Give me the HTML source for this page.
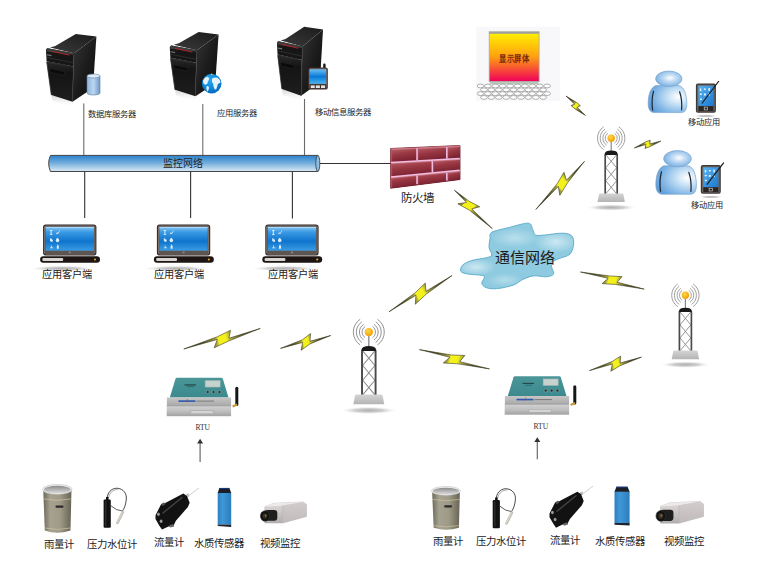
<!DOCTYPE html><html lang="zh-CN"><head><meta charset="utf-8"><style>html,body{margin:0;padding:0;background:#fff;overflow:hidden}svg{display:block}</style></head><body>
<svg width="770" height="573" viewBox="0 0 770 573">
<defs>
<linearGradient id="srvSide" x1="0" y1="0" x2="1" y2="1"><stop offset="0" stop-color="#363636"/><stop offset="0.5" stop-color="#1c1c1c"/><stop offset="1" stop-color="#0c0c0c"/></linearGradient>
<linearGradient id="srvTop" x1="0" y1="1" x2="1" y2="0"><stop offset="0" stop-color="#3a3a3a"/><stop offset="1" stop-color="#1c1c1c"/></linearGradient>
<linearGradient id="srvFront" x1="0" y1="0" x2="0" y2="1"><stop offset="0" stop-color="#2a2a2a"/><stop offset="0.3" stop-color="#141414"/><stop offset="1" stop-color="#1e1e1e"/></linearGradient>
<linearGradient id="srvRefl" x1="0" y1="0" x2="0" y2="1"><stop offset="0" stop-color="#c8c8c8"/><stop offset="1" stop-color="#ffffff" stop-opacity="0"/></linearGradient>
<g id="server">
<polygon points="51.3,95 72.5,101.7 74.5,108 52.5,101" fill="url(#srvRefl)" opacity="0.75"/>
<polygon points="50,47.5 55.3,45.9 75.8,34 96.4,36.6 73.9,53.2" fill="url(#srvTop)"/>
<polygon points="73.9,53.2 96.4,36.6 93,88 72.5,101.7" fill="url(#srvSide)"/>
<polygon points="46.6,61.2 73.2,66.5 72.5,101.7 51.3,95" fill="url(#srvFront)"/>
<path d="M47.6,48.2 Q46,48.5 46,50.5 L46.6,61.2 L73.2,66.5 L73.9,53.2 Z" fill="#161616"/>
<path d="M47.6,48.2 Q46,48.5 46,50.5 L46.2,51.5 L73.9,55 L73.9,53.2 Z" fill="#3c3c3c"/>
<line x1="51.3" y1="51.2" x2="69.2" y2="55.1" stroke="#b02424" stroke-width="1"/>
<line x1="47" y1="57.5" x2="72.8" y2="62.6" stroke="#383838" stroke-width="0.7"/>
<rect x="46.8" y="54.6" width="4.8" height="1.1" fill="#7a7a7a" transform="rotate(11 49 55)"/>
<polygon points="48,61.6 67.9,65 67.9,66.6 48,63.2" fill="#2e2e2e"/>
<polygon points="50,68.5 64.6,71.5 64.6,75.4 50,72.4" fill="#0a0a0a" stroke="#2c2c2c" stroke-width="0.5"/>
<line x1="73.9" y1="53.4" x2="72.5" y2="101.5" stroke="#303030" stroke-width="0.7"/>
<line x1="46.8" y1="62" x2="51.3" y2="94.8" stroke="#2e2e2e" stroke-width="0.8"/>
</g>
<linearGradient id="lpScr" x1="0" y1="0" x2="0" y2="1"><stop offset="0" stop-color="#86c8f4"/><stop offset="0.22" stop-color="#3a9ae4"/><stop offset="0.6" stop-color="#0e74cc"/><stop offset="1" stop-color="#3a9ce4"/></linearGradient>
<linearGradient id="lpBez" x1="0" y1="0" x2="0" y2="1"><stop offset="0" stop-color="#4a403c"/><stop offset="1" stop-color="#2a2220"/></linearGradient>
<radialGradient id="shadowG" cx="0.5" cy="0.5" r="0.5"><stop offset="0" stop-color="#b0b0b0"/><stop offset="0.5" stop-color="#cfcfcf"/><stop offset="1" stop-color="#ffffff" stop-opacity="0"/></radialGradient>
<g id="laptop">
<ellipse cx="62" cy="268.5" rx="34" ry="3" fill="url(#shadowG)"/>
<rect x="43.1" y="224.5" width="53.3" height="31" rx="2.8" fill="#2e2422"/>
<rect x="44.1" y="225.4" width="51.3" height="29" rx="1.8" fill="#8a807c"/>
<rect x="44.8" y="226.1" width="49.9" height="27.8" rx="1.2" fill="#5e5450"/>
<rect x="45.6" y="226.9" width="48.3" height="23.8" fill="url(#lpScr)"/>
<rect x="45.6" y="226.9" width="48.3" height="0.7" fill="#c8e4f8"/>
<rect x="68.8" y="251.6" width="2" height="1.6" fill="#8a8a8a"/>
<rect x="40.1" y="256.3" width="59.9" height="6.4" rx="3.2" fill="#1e1614"/>
<rect x="42.4" y="258.1" width="20.8" height="2.8" rx="1" fill="#d8d4d2"/>
<circle cx="95" cy="259.5" r="1" fill="#f0b020"/>
<g fill="#eef6ff" opacity="0.92">
<path d="M49.8,230 h2.6 v0.8 h-0.8 v3.4 h0.8 v0.9 h-2.6 v-0.9 h0.8 v-3.4 h-0.8 z"/>
<path d="M56,233.5 l1.2,-1.2 l0.8,0.8 l1.5,-2.6 l0.5,0.3 l-1.8,3.2 l-0.9,-0.6 l-0.9,0.8 z"/>
<path d="M50,238.2 q1.5,0 2,1.3 l1,0.3 l-0.3,1.6 l-0.9,0.5 l-1.8,-0.8 z"/>
<path d="M57.5,237.8 q1.8,1.3 1.8,2.6 q0,1.8 -1.8,1.8 q-1.8,0 -1.8,-1.8 q0,-1.3 1.8,-2.6 z"/>
<path d="M50,248.2 h3.2 v-0.7 h-1.2 l-0.6,-2.3 h-0.6 l0.4,2.3 h-1.2 z"/>
<path d="M56.8,248.8 h2 v-2.8 l-0.6,-0.7 v-0.8 h-0.8 v0.8 l-0.6,0.7 z"/>
</g>
</g>
<radialGradient id="ballG" cx="0.4" cy="0.35" r="0.7"><stop offset="0" stop-color="#ffd84a"/><stop offset="1" stop-color="#f09a00"/></radialGradient>
<linearGradient id="baseG" x1="0" y1="0" x2="0" y2="1"><stop offset="0" stop-color="#d4d4d4"/><stop offset="1" stop-color="#b4b4b4"/></linearGradient>
<g id="tower">
<ellipse cx="0" cy="69.3" rx="26" ry="3.4" fill="url(#shadowG)"/>
<path d="M-3.30,-4.89 A5.9,5.9 0 0 0 -3.30,4.89" fill="none" stroke="#8e8e8e" stroke-width="0.85"/>
<path d="M3.30,-4.89 A5.9,5.9 0 0 1 3.30,4.89" fill="none" stroke="#8e8e8e" stroke-width="0.85"/>
<path d="M-4.64,-6.88 A8.3,8.3 0 0 0 -4.64,6.88" fill="none" stroke="#8e8e8e" stroke-width="0.85"/>
<path d="M4.64,-6.88 A8.3,8.3 0 0 1 4.64,6.88" fill="none" stroke="#8e8e8e" stroke-width="0.85"/>
<path d="M-6.15,-9.12 A11.0,11.0 0 0 0 -6.15,9.12" fill="none" stroke="#8e8e8e" stroke-width="0.85"/>
<path d="M6.15,-9.12 A11.0,11.0 0 0 1 6.15,9.12" fill="none" stroke="#8e8e8e" stroke-width="0.85"/>
<path d="M-7.66,-11.36 A13.7,13.7 0 0 0 -7.66,11.36" fill="none" stroke="#8e8e8e" stroke-width="0.85"/>
<path d="M7.66,-11.36 A13.7,13.7 0 0 1 7.66,11.36" fill="none" stroke="#8e8e8e" stroke-width="0.85"/>
<line x1="0" y1="3" x2="0" y2="13" stroke="#8a8a8a" stroke-width="1.2"/>
<circle cx="0" cy="0" r="3.7" fill="url(#ballG)"/>
<g stroke="#8a8a8a" stroke-width="0.9">
<line x1="-5.4" y1="16.60" x2="5.4" y2="29.60"/><line x1="5.4" y1="16.60" x2="-5.4" y2="29.60"/>
<line x1="-5.4" y1="29.60" x2="5.4" y2="42.60"/><line x1="5.4" y1="29.60" x2="-5.4" y2="42.60"/>
<line x1="-5.4" y1="42.60" x2="5.4" y2="55.60"/><line x1="5.4" y1="42.60" x2="-5.4" y2="55.60"/>
</g>
<line x1="-6" y1="16" x2="-6" y2="56" stroke="#4a4a4a" stroke-width="1.7"/>
<line x1="6" y1="16" x2="6" y2="56" stroke="#4a4a4a" stroke-width="1.7"/>
<path d="M-6.4,16.8 L-6.4,15.5 Q-6,12.4 0,12.4 Q6,12.4 6.4,15.5 L6.4,16.8 Z" fill="#1a1a1a"/>
<path d="M-12.2,56 Q-12.2,55.3 -10.5,55.3 L10.5,55.3 Q12.2,55.3 12.2,56 L13.7,63.9 L-13.7,63.9 Z" fill="url(#baseG)"/>
</g>
<linearGradient id="pipeG" x1="0" y1="0" x2="0" y2="1"><stop offset="0" stop-color="#2a82d0"/><stop offset="0.5" stop-color="#78b0dc"/><stop offset="1" stop-color="#dceaf4"/></linearGradient>
<linearGradient id="scrG" x1="0" y1="0" x2="0" y2="1"><stop offset="0" stop-color="#fff500"/><stop offset="0.5" stop-color="#ffa010"/><stop offset="1" stop-color="#f0005a"/></linearGradient>
<linearGradient id="cloudG" x1="0" y1="0" x2="1" y2="1"><stop offset="0" stop-color="#8ccbe0"/><stop offset="0.5" stop-color="#aad8e8"/><stop offset="1" stop-color="#7cc0da"/></linearGradient>
<linearGradient id="brick" x1="0" y1="0" x2="0.3" y2="1"><stop offset="0" stop-color="#c06a72"/><stop offset="0.5" stop-color="#9a3844"/><stop offset="1" stop-color="#7a2030"/></linearGradient>
<linearGradient id="teal" x1="0" y1="0" x2="0" y2="1"><stop offset="0" stop-color="#4a9699"/><stop offset="1" stop-color="#3c8a8e"/></linearGradient>
<linearGradient id="band" x1="0" y1="0" x2="0" y2="1"><stop offset="0" stop-color="#c6c6c6"/><stop offset="1" stop-color="#a9a9a9"/></linearGradient>
<linearGradient id="silver" x1="0" y1="0" x2="0" y2="1"><stop offset="0" stop-color="#d2d2d2"/><stop offset="0.5" stop-color="#c0c0c0"/><stop offset="1" stop-color="#a2a2a2"/></linearGradient>
<linearGradient id="rainG" x1="0" y1="0" x2="1" y2="0"><stop offset="0" stop-color="#6e6a5c"/><stop offset="0.25" stop-color="#a6a290"/><stop offset="0.6" stop-color="#9e9a86"/><stop offset="1" stop-color="#686456"/></linearGradient>
<linearGradient id="wqG" x1="0" y1="0" x2="1" y2="0"><stop offset="0" stop-color="#2e80c0"/><stop offset="0.35" stop-color="#3f98d8"/><stop offset="1" stop-color="#2c7cbc"/></linearGradient>
<linearGradient id="rimG" x1="0" y1="0" x2="0" y2="1"><stop offset="0" stop-color="#8a8a8a"/><stop offset="1" stop-color="#dedede"/></linearGradient>
<linearGradient id="camG" x1="0" y1="0" x2="0" y2="1"><stop offset="0" stop-color="#e2dede"/><stop offset="1" stop-color="#b4aeae"/></linearGradient>
</defs>
<use href="#server"/>
<use href="#server" transform="translate(169.8,45.9) scale(0.968,0.947) translate(-46,-48.6)"/>
<use href="#server" transform="translate(277,41.7) scale(0.913,1.02) translate(-46,-48.6)"/>
<g><linearGradient id="dbg" x1="0" y1="0" x2="1" y2="0"><stop offset="0" stop-color="#8fb4dc"/><stop offset="0.5" stop-color="#bcd6ef"/><stop offset="1" stop-color="#6f98c8"/></linearGradient>
<path d="M87.0,76.0 L87.0,93.0 A6.5,2 0 0 0 100.0,93.0 L100.0,76.0 Z" fill="url(#dbg)" stroke="#5c7fa6" stroke-width="0.6"/>
<ellipse cx="93.5" cy="76.0" rx="6.5" ry="2" fill="#dfeaf6" stroke="#5c7fa6" stroke-width="0.6"/></g>
<radialGradient id="glb" cx="0.4" cy="0.3" r="0.8"><stop offset="0" stop-color="#2aa8f0"/><stop offset="0.6" stop-color="#0a84d8"/><stop offset="1" stop-color="#0660b4"/></radialGradient>
<g transform="translate(211.7,83.6) scale(0.990)">
<circle cx="0" cy="0" r="9.9" fill="url(#glb)"/>
<g fill="#f2f7fc" opacity="0.95">
<path d="M-8.8,-3 Q-7.5,-6 -4.5,-6.8 Q-2,-6 -3,-3.5 Q-4.5,-2.5 -4,-0.5 Q-5,1.5 -6.8,1.2 Q-9,0 -8.8,-3 Z"/>
<path d="M-5.2,2.6 Q-3,2.2 -2.6,4.2 Q-3,7 -4.6,8.3 Q-5.8,5.5 -5.2,2.6 Z"/>
<path d="M0.3,-5 Q3,-6.8 6,-5.8 Q8.6,-4 9,-1 Q7.6,0 6.2,0.4 Q5.6,3 4.6,5.6 Q3,6.8 2.5,4.6 Q1.4,2 1.5,0 Q-0.2,-1 0.3,-2.8 Z"/>
</g>
<circle cx="0" cy="-9.4" r="0.9" fill="#f0a830"/>
</g>
<rect x="323.2" y="63.6" width="2.4" height="5" rx="1.1" fill="#151515"/>
<rect x="308.1" y="67.4" width="19.7" height="22.2" rx="2.2" fill="#3a2c28"/>
<rect x="308.9" y="68.2" width="18.1" height="20.6" rx="1.6" fill="#6e625c"/>
<linearGradient id="pdag" x1="0" y1="0" x2="0" y2="1"><stop offset="0" stop-color="#6cc0f4"/><stop offset="0.5" stop-color="#0a78d6"/><stop offset="1" stop-color="#48b4f2"/></linearGradient>
<rect x="309.7" y="69.3" width="16.4" height="14.5" fill="url(#pdag)"/>
<rect x="309.5" y="84.3" width="16.8" height="4.4" fill="#3a2c28"/>
<rect x="310.7" y="85.4" width="4.1" height="2.6" fill="#e8e4e2"/>
<rect x="315.8" y="85.4" width="4.1" height="2.6" fill="#e8e4e2"/>
<rect x="321.0" y="85.4" width="4.1" height="2.6" fill="#e8e4e2"/>
<g stroke="#6a6a6a" stroke-width="1.1"><line x1="83.8" y1="103.5" x2="83.8" y2="155.5"/><line x1="202.8" y1="104" x2="202.8" y2="155.5"/><line x1="304.5" y1="99" x2="304.5" y2="155.5"/></g>
<text x="88.2" y="114.0" font-size="8.3" fill="#222" font-weight="normal" text-anchor="start" dominant-baseline="central" font-family="'Liberation Serif', serif" >数据库服务器</text>
<text x="216.7" y="113.2" font-size="8.3" fill="#222" font-weight="normal" text-anchor="start" dominant-baseline="central" font-family="'Liberation Serif', serif" >应用服务器</text>
<text x="314.9" y="112.2" font-size="8.4" fill="#222" font-weight="normal" text-anchor="start" dominant-baseline="central" font-family="'Liberation Serif', serif" >移动信息服务器</text>
<path d="M50.5,155.4 L318,155.4 L318,171.5 L50.5,171.5 Q46.8,163.45 50.5,155.4 Z" fill="url(#pipeG)" stroke="#444" stroke-width="1"/>
<ellipse cx="317.8" cy="163.45" rx="2" ry="8" fill="#8cc0e8" stroke="#444" stroke-width="0.9"/>
<text x="163.0" y="163.0" font-size="10.0" fill="#222" font-weight="normal" text-anchor="start" dominant-baseline="central" font-family="'Liberation Serif', serif" >监控网络</text>
<line x1="319.8" y1="163.5" x2="391" y2="163.5" stroke="#333" stroke-width="1.1"/>
<g stroke="#333" stroke-width="1.1"><line x1="84.7" y1="171.5" x2="84.7" y2="218"/><line x1="190.6" y1="171.5" x2="190.6" y2="218"/><line x1="292.4" y1="171.5" x2="292.4" y2="218.5"/></g>
<use href="#laptop"/>
<use href="#laptop" transform="translate(113.8,0)"/>
<use href="#laptop" transform="translate(222.2,0)"/>
<text x="42.1" y="274.6" font-size="10.2" fill="#222" font-weight="normal" text-anchor="start" dominant-baseline="central" font-family="'Liberation Serif', serif" >应用客户端</text>
<text x="154.3" y="274.7" font-size="10.2" fill="#222" font-weight="normal" text-anchor="start" dominant-baseline="central" font-family="'Liberation Serif', serif" >应用客户端</text>
<text x="267.8" y="274.7" font-size="10.2" fill="#222" font-weight="normal" text-anchor="start" dominant-baseline="central" font-family="'Liberation Serif', serif" >应用客户端</text>
<g>
<polygon points="390.7,148.5 460,145.5 460,179.5 390.7,188.2" fill="#7a2232" stroke="#5a1020" stroke-width="0.8"/>
<polygon points="390.7,148.5 417.0,147.4 417.0,161.0 390.7,162.5" fill="url(#brick)"/>
<polygon points="390.7,148.5 417.0,147.4 417.0,149.0 392.2,150.1" fill="#cf8088" opacity="0.8"/>
<polygon points="390.7,148.5 392.2,150.1 392.2,162.0 390.7,162.5" fill="#b85a66" opacity="0.7"/>
<polygon points="417.0,147.4 446.8,146.1 446.8,159.3 417.0,161.0" fill="url(#brick)"/>
<polygon points="417.0,147.4 446.8,146.1 446.8,147.7 418.5,149.0" fill="#cf8088" opacity="0.8"/>
<polygon points="417.0,147.4 418.5,149.0 418.5,160.5 417.0,161.0" fill="#b85a66" opacity="0.7"/>
<polygon points="446.8,146.1 460.0,145.5 460.0,158.5 446.8,159.3" fill="url(#brick)"/>
<polygon points="446.8,146.1 460.0,145.5 460.0,147.1 448.3,147.7" fill="#cf8088" opacity="0.8"/>
<polygon points="446.8,146.1 448.3,147.7 448.3,158.8 446.8,159.3" fill="#b85a66" opacity="0.7"/>
<polygon points="390.7,162.5 432.3,160.1 432.3,172.9 390.7,176.9" fill="url(#brick)"/>
<polygon points="390.7,162.5 432.3,160.1 432.3,161.7 392.2,164.1" fill="#cf8088" opacity="0.8"/>
<polygon points="390.7,162.5 392.2,164.1 392.2,176.4 390.7,176.9" fill="#b85a66" opacity="0.7"/>
<polygon points="432.3,160.1 460.0,158.5 460.0,170.3 432.3,172.9" fill="url(#brick)"/>
<polygon points="432.3,160.1 460.0,158.5 460.0,160.1 433.8,161.7" fill="#cf8088" opacity="0.8"/>
<polygon points="432.3,160.1 433.8,161.7 433.8,172.4 432.3,172.9" fill="#b85a66" opacity="0.7"/>
<polygon points="390.7,176.9 417.0,174.4 417.0,184.9 390.7,188.2" fill="url(#brick)"/>
<polygon points="390.7,176.9 417.0,174.4 417.0,176.0 392.2,178.5" fill="#cf8088" opacity="0.8"/>
<polygon points="390.7,176.9 392.2,178.5 392.2,187.7 390.7,188.2" fill="#b85a66" opacity="0.7"/>
<polygon points="417.0,174.4 446.8,171.6 446.8,181.2 417.0,184.9" fill="url(#brick)"/>
<polygon points="417.0,174.4 446.8,171.6 446.8,173.2 418.5,176.0" fill="#cf8088" opacity="0.8"/>
<polygon points="417.0,174.4 418.5,176.0 418.5,184.4 417.0,184.9" fill="#b85a66" opacity="0.7"/>
<polygon points="446.8,171.6 460.0,170.3 460.0,179.5 446.8,181.2" fill="url(#brick)"/>
<polygon points="446.8,171.6 460.0,170.3 460.0,171.9 448.3,173.2" fill="#cf8088" opacity="0.8"/>
<polygon points="446.8,171.6 448.3,173.2 448.3,180.7 446.8,181.2" fill="#b85a66" opacity="0.7"/>
<g stroke="#f2bde4" stroke-width="1.5" fill="none">
<line x1="391" y1="162.5" x2="459.6" y2="158.5"/><line x1="391" y1="176.9" x2="459.6" y2="170.3"/>
<line x1="417.0" y1="148.2" x2="417.0" y2="160.2"/>
<line x1="446.8" y1="146.9" x2="446.8" y2="158.5"/>
<line x1="432.3" y1="160.9" x2="432.3" y2="172.1"/>
<line x1="417.0" y1="175.2" x2="417.0" y2="184.1"/>
<line x1="446.8" y1="172.4" x2="446.8" y2="180.4"/>
</g></g>
<text x="401.0" y="197.8" font-size="11.5" fill="#222" font-weight="normal" text-anchor="start" dominant-baseline="central" font-family="'Liberation Serif', serif" >防火墙</text>
<rect x="476.3" y="26.8" width="83.9" height="74.2" fill="#f8f8fa"/>
<rect x="489.2" y="31.8" width="49.9" height="49.6" fill="url(#scrG)" stroke="#a8a8a8" stroke-width="0.8"/>
<rect x="489.2" y="31.8" width="49.9" height="2" fill="#a0a0a0"/>
<rect x="489.8" y="82" width="48.6" height="2.2" fill="#b8c8b8"/>
<text x="514.3" y="58.5" font-size="8.6" fill="#7a2a10" font-weight="bold" text-anchor="middle" dominant-baseline="central" font-family="'Liberation Serif', serif" textLength="30.7" lengthAdjust="spacingAndGlyphs">显示屏体</text>
<g fill="#fff" stroke="#8c8c8c" stroke-width="0.7">
<ellipse cx="480.5" cy="86.0" rx="3.4" ry="1.9"/>
<ellipse cx="487.9" cy="86.0" rx="3.4" ry="1.9"/>
<ellipse cx="495.3" cy="86.0" rx="3.4" ry="1.9"/>
<ellipse cx="502.7" cy="86.0" rx="3.4" ry="1.9"/>
<ellipse cx="510.1" cy="86.0" rx="3.4" ry="1.9"/>
<ellipse cx="517.5" cy="86.0" rx="3.4" ry="1.9"/>
<ellipse cx="524.9" cy="86.0" rx="3.4" ry="1.9"/>
<ellipse cx="532.3" cy="86.0" rx="3.4" ry="1.9"/>
<ellipse cx="539.7" cy="86.0" rx="3.4" ry="1.9"/>
<ellipse cx="547.1" cy="86.0" rx="3.4" ry="1.9"/>
<ellipse cx="484.0" cy="89.8" rx="3.4" ry="1.9"/>
<ellipse cx="491.4" cy="89.8" rx="3.4" ry="1.9"/>
<ellipse cx="498.8" cy="89.8" rx="3.4" ry="1.9"/>
<ellipse cx="506.2" cy="89.8" rx="3.4" ry="1.9"/>
<ellipse cx="513.6" cy="89.8" rx="3.4" ry="1.9"/>
<ellipse cx="521.0" cy="89.8" rx="3.4" ry="1.9"/>
<ellipse cx="528.4" cy="89.8" rx="3.4" ry="1.9"/>
<ellipse cx="535.8" cy="89.8" rx="3.4" ry="1.9"/>
<ellipse cx="543.2" cy="89.8" rx="3.4" ry="1.9"/>
<ellipse cx="480.5" cy="93.6" rx="3.4" ry="1.9"/>
<ellipse cx="487.9" cy="93.6" rx="3.4" ry="1.9"/>
<ellipse cx="495.3" cy="93.6" rx="3.4" ry="1.9"/>
<ellipse cx="502.7" cy="93.6" rx="3.4" ry="1.9"/>
<ellipse cx="510.1" cy="93.6" rx="3.4" ry="1.9"/>
<ellipse cx="517.5" cy="93.6" rx="3.4" ry="1.9"/>
<ellipse cx="524.9" cy="93.6" rx="3.4" ry="1.9"/>
<ellipse cx="532.3" cy="93.6" rx="3.4" ry="1.9"/>
<ellipse cx="539.7" cy="93.6" rx="3.4" ry="1.9"/>
<ellipse cx="547.1" cy="93.6" rx="3.4" ry="1.9"/>
<ellipse cx="484.0" cy="97.4" rx="3.4" ry="1.9"/>
<ellipse cx="491.4" cy="97.4" rx="3.4" ry="1.9"/>
<ellipse cx="498.8" cy="97.4" rx="3.4" ry="1.9"/>
<ellipse cx="506.2" cy="97.4" rx="3.4" ry="1.9"/>
<ellipse cx="513.6" cy="97.4" rx="3.4" ry="1.9"/>
<ellipse cx="521.0" cy="97.4" rx="3.4" ry="1.9"/>
<ellipse cx="528.4" cy="97.4" rx="3.4" ry="1.9"/>
<ellipse cx="535.8" cy="97.4" rx="3.4" ry="1.9"/>
<ellipse cx="543.2" cy="97.4" rx="3.4" ry="1.9"/>
</g>
<g transform="translate(668.8,78.8) scale(1.000)">
<radialGradient id="p1b" cx="0.78" cy="0.42" r="0.85"><stop offset="0" stop-color="#ffffff"/><stop offset="0.28" stop-color="#cfe5f7"/><stop offset="0.7" stop-color="#84b8e6"/><stop offset="1" stop-color="#5a9ad8"/></radialGradient>
<radialGradient id="p1h" cx="0.55" cy="0.45" r="0.65"><stop offset="0" stop-color="#ffffff"/><stop offset="0.35" stop-color="#c2dcf4"/><stop offset="1" stop-color="#6aa6de"/></radialGradient>
<path d="M-13,6.8 C-18,8.5 -20.4,15.5 -20.6,23.5 C-20.8,30 -19,33.6 -14.5,33.8 L12.5,33.8 C16.8,33.6 18.2,30 18,23.5 C17.6,15.5 15.5,8.5 10.5,6.8 Z" fill="url(#p1b)" stroke="#7aa6d0" stroke-width="0.7"/>
<path d="M-15.3,12.5 Q-17.6,21 -16.2,31" fill="none" stroke="#1e2630" stroke-width="1.2" stroke-linecap="round"/>
<path d="M10.8,13 Q13.6,21 12.8,31" fill="none" stroke="#1e2630" stroke-width="1.2" stroke-linecap="round"/>
<ellipse cx="0" cy="0" rx="13.2" ry="7.75" fill="url(#p1h)" stroke="#7aa6d0" stroke-width="0.7"/>
</g>
<g transform="translate(695.9,83.5) scale(1.000,1.000)">
<ellipse cx="10" cy="32.5" rx="13" ry="1.6" fill="url(#shadowG)"/>
<rect x="0" y="0" width="20" height="29.3" rx="2" fill="#3e3a38"/>
<rect x="1.2" y="1.2" width="17.6" height="26.9" rx="1.4" fill="#6a6664"/>
<linearGradient id="pd1" x1="0" y1="0" x2="1" y2="1"><stop offset="0" stop-color="#5ab4f0"/><stop offset="1" stop-color="#1a78d0"/></linearGradient>
<rect x="2.5" y="2.3" width="15" height="20.3" fill="url(#pd1)"/>
<rect x="2.5" y="22.6" width="15" height="5" fill="#2a2624"/>
<rect x="8.3" y="23.6" width="3.4" height="2.8" fill="none" stroke="#ddd" stroke-width="0.6"/>
<g fill="#e8f4ff"><rect x="4" y="5" width="1.4" height="2.5"/><rect x="8" y="5" width="2" height="1.4"/><rect x="12.5" y="4.5" width="1.5" height="3"/><rect x="4" y="10" width="2" height="1.4"/><rect x="8" y="10" width="2" height="2"/><rect x="12" y="10" width="2" height="2"/><rect x="4" y="15" width="2" height="1.4"/></g>
<line x1="6" y1="20" x2="23" y2="-2.5" stroke="#1a1a1a" stroke-width="1.2"/>
</g>
<text x="688.4" y="122.3" font-size="8.2" fill="#222" font-weight="normal" text-anchor="start" dominant-baseline="central" font-family="'Liberation Serif', serif" >移动应用</text>
<g transform="translate(677.5,158.7) scale(1.050)">
<radialGradient id="p2b" cx="0.78" cy="0.42" r="0.85"><stop offset="0" stop-color="#ffffff"/><stop offset="0.28" stop-color="#cfe5f7"/><stop offset="0.7" stop-color="#84b8e6"/><stop offset="1" stop-color="#5a9ad8"/></radialGradient>
<radialGradient id="p2h" cx="0.55" cy="0.45" r="0.65"><stop offset="0" stop-color="#ffffff"/><stop offset="0.35" stop-color="#c2dcf4"/><stop offset="1" stop-color="#6aa6de"/></radialGradient>
<path d="M-13,6.8 C-18,8.5 -20.4,15.5 -20.6,23.5 C-20.8,30 -19,33.6 -14.5,33.8 L12.5,33.8 C16.8,33.6 18.2,30 18,23.5 C17.6,15.5 15.5,8.5 10.5,6.8 Z" fill="url(#p2b)" stroke="#7aa6d0" stroke-width="0.7"/>
<path d="M-15.3,12.5 Q-17.6,21 -16.2,31" fill="none" stroke="#1e2630" stroke-width="1.2" stroke-linecap="round"/>
<path d="M10.8,13 Q13.6,21 12.8,31" fill="none" stroke="#1e2630" stroke-width="1.2" stroke-linecap="round"/>
<ellipse cx="0" cy="0" rx="13.2" ry="7.75" fill="url(#p2h)" stroke="#7aa6d0" stroke-width="0.7"/>
</g>
<g transform="translate(700.8,165.1) scale(1.000,0.980)">
<ellipse cx="10" cy="32.5" rx="13" ry="1.6" fill="url(#shadowG)"/>
<rect x="0" y="0" width="20" height="29.3" rx="2" fill="#3e3a38"/>
<rect x="1.2" y="1.2" width="17.6" height="26.9" rx="1.4" fill="#6a6664"/>
<linearGradient id="pd2" x1="0" y1="0" x2="1" y2="1"><stop offset="0" stop-color="#5ab4f0"/><stop offset="1" stop-color="#1a78d0"/></linearGradient>
<rect x="2.5" y="2.3" width="15" height="20.3" fill="url(#pd2)"/>
<rect x="2.5" y="22.6" width="15" height="5" fill="#2a2624"/>
<rect x="8.3" y="23.6" width="3.4" height="2.8" fill="none" stroke="#ddd" stroke-width="0.6"/>
<g fill="#e8f4ff"><rect x="4" y="5" width="1.4" height="2.5"/><rect x="8" y="5" width="2" height="1.4"/><rect x="12.5" y="4.5" width="1.5" height="3"/><rect x="4" y="10" width="2" height="1.4"/><rect x="8" y="10" width="2" height="2"/><rect x="12" y="10" width="2" height="2"/><rect x="4" y="15" width="2" height="1.4"/></g>
<line x1="6" y1="20" x2="23" y2="-2.5" stroke="#1a1a1a" stroke-width="1.2"/>
</g>
<text x="691.4" y="205.4" font-size="8.2" fill="#222" font-weight="normal" text-anchor="start" dominant-baseline="central" font-family="'Liberation Serif', serif" >移动应用</text>
<use href="#tower" transform="translate(611.2,138.2)"/>
<use href="#tower" transform="translate(685.4,295.3)"/>
<use href="#tower" transform="translate(368.8,332.1) scale(1.13)"/>
<clipPath id="cloudClip"><path d="M491.8,232.3 C494.8,230.5 502.1,229.2 508.2,227.7 C514.3,226.2 524.1,222.9 528.2,223.2 C532.3,223.5 531.5,227.5 532.7,229.5 C533.9,231.5 533.5,234.1 535.5,235.0 C537.5,235.9 540.0,235.3 544.5,235.0 C549.0,234.7 558.2,233.0 562.7,233.2 C567.2,233.3 570.0,234.1 571.8,235.9 C573.6,237.7 573.9,241.1 573.6,244.1 C573.3,247.1 572.4,251.7 570.0,254.1 C567.6,256.5 562.1,257.2 559.1,258.6 C556.1,260.0 553.0,260.8 551.8,262.3 C550.6,263.8 551.5,265.7 551.8,267.7 C552.1,269.7 554.5,272.6 553.6,274.1 C552.7,275.6 549.7,276.5 546.4,276.8 C543.1,277.1 537.5,275.4 533.6,275.9 C529.7,276.3 526.0,278.0 522.7,279.5 C519.4,281.0 517.8,283.5 513.6,285.0 C509.4,286.5 501.8,288.2 497.3,288.6 C492.8,289.1 489.0,288.6 486.4,287.7 C483.8,286.8 482.1,285.0 481.8,283.2 C481.5,281.4 484.9,278.2 484.5,276.8 C484.1,275.4 481.8,275.4 479.1,275.0 C476.4,274.6 471.2,274.7 468.2,274.1 C465.2,273.5 461.8,272.9 460.9,271.4 C460.0,269.9 460.9,266.8 462.7,265.0 C464.5,263.2 467.9,261.7 471.8,260.5 C475.8,259.3 483.1,258.6 486.4,257.7 C489.7,256.8 491.4,256.7 491.8,255.0 C492.2,253.3 489.4,250.4 489.1,247.7 C488.8,245.0 489.6,241.2 490.0,238.6 C490.4,236.0 488.8,234.1 491.8,232.3Z"/></clipPath>
<radialGradient id="cl1" cx="0.5" cy="0.5" r="0.5"><stop offset="0" stop-color="#d4ecf4" stop-opacity="0.9"/><stop offset="1" stop-color="#d4ecf4" stop-opacity="0"/></radialGradient>
<path d="M491.8,232.3 C494.8,230.5 502.1,229.2 508.2,227.7 C514.3,226.2 524.1,222.9 528.2,223.2 C532.3,223.5 531.5,227.5 532.7,229.5 C533.9,231.5 533.5,234.1 535.5,235.0 C537.5,235.9 540.0,235.3 544.5,235.0 C549.0,234.7 558.2,233.0 562.7,233.2 C567.2,233.3 570.0,234.1 571.8,235.9 C573.6,237.7 573.9,241.1 573.6,244.1 C573.3,247.1 572.4,251.7 570.0,254.1 C567.6,256.5 562.1,257.2 559.1,258.6 C556.1,260.0 553.0,260.8 551.8,262.3 C550.6,263.8 551.5,265.7 551.8,267.7 C552.1,269.7 554.5,272.6 553.6,274.1 C552.7,275.6 549.7,276.5 546.4,276.8 C543.1,277.1 537.5,275.4 533.6,275.9 C529.7,276.3 526.0,278.0 522.7,279.5 C519.4,281.0 517.8,283.5 513.6,285.0 C509.4,286.5 501.8,288.2 497.3,288.6 C492.8,289.1 489.0,288.6 486.4,287.7 C483.8,286.8 482.1,285.0 481.8,283.2 C481.5,281.4 484.9,278.2 484.5,276.8 C484.1,275.4 481.8,275.4 479.1,275.0 C476.4,274.6 471.2,274.7 468.2,274.1 C465.2,273.5 461.8,272.9 460.9,271.4 C460.0,269.9 460.9,266.8 462.7,265.0 C464.5,263.2 467.9,261.7 471.8,260.5 C475.8,259.3 483.1,258.6 486.4,257.7 C489.7,256.8 491.4,256.7 491.8,255.0 C492.2,253.3 489.4,250.4 489.1,247.7 C488.8,245.0 489.6,241.2 490.0,238.6 C490.4,236.0 488.8,234.1 491.8,232.3Z" fill="#8ecae0"/>
<g clip-path="url(#cloudClip)"><ellipse cx="476" cy="267" rx="20" ry="9" fill="url(#cl1)"/><ellipse cx="556" cy="242" rx="22" ry="11" fill="url(#cl1)"/><ellipse cx="515" cy="238" rx="24" ry="10" fill="url(#cl1)" opacity="0.7"/><ellipse cx="505" cy="280" rx="18" ry="7" fill="url(#cl1)" opacity="0.6"/></g>
<path d="M491.8,232.3 C494.8,230.5 502.1,229.2 508.2,227.7 C514.3,226.2 524.1,222.9 528.2,223.2 C532.3,223.5 531.5,227.5 532.7,229.5 C533.9,231.5 533.5,234.1 535.5,235.0 C537.5,235.9 540.0,235.3 544.5,235.0 C549.0,234.7 558.2,233.0 562.7,233.2 C567.2,233.3 570.0,234.1 571.8,235.9 C573.6,237.7 573.9,241.1 573.6,244.1 C573.3,247.1 572.4,251.7 570.0,254.1 C567.6,256.5 562.1,257.2 559.1,258.6 C556.1,260.0 553.0,260.8 551.8,262.3 C550.6,263.8 551.5,265.7 551.8,267.7 C552.1,269.7 554.5,272.6 553.6,274.1 C552.7,275.6 549.7,276.5 546.4,276.8 C543.1,277.1 537.5,275.4 533.6,275.9 C529.7,276.3 526.0,278.0 522.7,279.5 C519.4,281.0 517.8,283.5 513.6,285.0 C509.4,286.5 501.8,288.2 497.3,288.6 C492.8,289.1 489.0,288.6 486.4,287.7 C483.8,286.8 482.1,285.0 481.8,283.2 C481.5,281.4 484.9,278.2 484.5,276.8 C484.1,275.4 481.8,275.4 479.1,275.0 C476.4,274.6 471.2,274.7 468.2,274.1 C465.2,273.5 461.8,272.9 460.9,271.4 C460.0,269.9 460.9,266.8 462.7,265.0 C464.5,263.2 467.9,261.7 471.8,260.5 C475.8,259.3 483.1,258.6 486.4,257.7 C489.7,256.8 491.4,256.7 491.8,255.0 C492.2,253.3 489.4,250.4 489.1,247.7 C488.8,245.0 489.6,241.2 490.0,238.6 C490.4,236.0 488.8,234.1 491.8,232.3Z" fill="none" stroke="#58a8c8" stroke-width="0.9"/>
<text x="524.5" y="257.0" font-size="15.0" fill="#1a1a1a" font-weight="normal" text-anchor="middle" dominant-baseline="central" font-family="'Liberation Sans', serif" >通信网络</text>
<defs></defs>
<linearGradient id="bg0" gradientUnits="userSpaceOnUse" x1="0" y1="0" x2="1" y2="0">
<stop offset="0" stop-color="#181818"/><stop offset="0.176" stop-color="#46462a"/><stop offset="0.301" stop-color="#a8a440"/><stop offset="0.305" stop-color="#f4f01c"/><stop offset="0.468" stop-color="#f4f01c"/><stop offset="0.503" stop-color="#a8a440"/><stop offset="0.710" stop-color="#46462a"/><stop offset="1" stop-color="#181818"/></linearGradient>
<g transform="translate(454.40,190.20) rotate(45.375) scale(53.953)"><polygon points="0.0000,0.0000 0.3305,-0.0491 0.5484,-0.1176 0.4728,0.0142 1.0000,0.0000 0.4578,0.0624 0.2250,0.1309 0.3205,-0.0009" fill="url(#bg0)" stroke="#3a3a1a" stroke-width="0.6" vector-effect="non-scaling-stroke" stroke-linejoin="miter"/></g>
<linearGradient id="bg1" gradientUnits="userSpaceOnUse" x1="0" y1="0" x2="1" y2="0">
<stop offset="0" stop-color="#181818"/><stop offset="0.259" stop-color="#46462a"/><stop offset="0.451" stop-color="#a8a440"/><stop offset="0.475" stop-color="#f4f01c"/><stop offset="0.594" stop-color="#f4f01c"/><stop offset="0.649" stop-color="#a8a440"/><stop offset="0.790" stop-color="#46462a"/><stop offset="1" stop-color="#181818"/></linearGradient>
<g transform="translate(535.80,209.50) rotate(-44.704) scale(68.520)"><polygon points="0.0000,0.0000 0.4806,-0.0468 0.6744,-0.0964 0.6186,0.0116 1.0000,0.0000 0.6036,0.0495 0.3947,0.0991 0.4706,-0.0089" fill="url(#bg1)" stroke="#3a3a1a" stroke-width="0.6" vector-effect="non-scaling-stroke" stroke-linejoin="miter"/></g>
<linearGradient id="bg2" gradientUnits="userSpaceOnUse" x1="0" y1="0" x2="1" y2="0">
<stop offset="0" stop-color="#181818"/><stop offset="0.239" stop-color="#46462a"/><stop offset="0.415" stop-color="#a8a440"/><stop offset="0.454" stop-color="#f4f01c"/><stop offset="0.541" stop-color="#f4f01c"/><stop offset="0.610" stop-color="#a8a440"/><stop offset="0.769" stop-color="#46462a"/><stop offset="1" stop-color="#181818"/></linearGradient>
<g transform="translate(566.00,96.00) rotate(45.000) scale(27.436)"><polygon points="0.0000,0.0000 0.4451,-0.1055 0.6211,-0.1211 0.5798,0.0056 1.0000,0.0000 0.5648,0.1003 0.3737,0.1160 0.4351,-0.0107" fill="url(#bg2)" stroke="#3a3a1a" stroke-width="0.6" vector-effect="non-scaling-stroke" stroke-linejoin="miter"/></g>
<linearGradient id="bg3" gradientUnits="userSpaceOnUse" x1="0" y1="0" x2="1" y2="0">
<stop offset="0" stop-color="#181818"/><stop offset="0.242" stop-color="#46462a"/><stop offset="0.419" stop-color="#a8a440"/><stop offset="0.453" stop-color="#f4f01c"/><stop offset="0.551" stop-color="#f4f01c"/><stop offset="0.615" stop-color="#a8a440"/><stop offset="0.772" stop-color="#46462a"/><stop offset="1" stop-color="#181818"/></linearGradient>
<g transform="translate(634.30,148.00) rotate(-14.542) scale(27.480)"><polygon points="0.0000,0.0000 0.4494,-0.1114 0.6313,-0.1295 0.5852,-0.0009 1.0000,0.0000 0.5702,0.0937 0.3732,0.1119 0.4394,-0.0167" fill="url(#bg3)" stroke="#3a3a1a" stroke-width="0.6" vector-effect="non-scaling-stroke" stroke-linejoin="miter"/></g>
<linearGradient id="bg4" gradientUnits="userSpaceOnUse" x1="0" y1="0" x2="1" y2="0">
<stop offset="0" stop-color="#181818"/><stop offset="0.237" stop-color="#46462a"/><stop offset="0.411" stop-color="#a8a440"/><stop offset="0.442" stop-color="#f4f01c"/><stop offset="0.546" stop-color="#f4f01c"/><stop offset="0.607" stop-color="#a8a440"/><stop offset="0.767" stop-color="#46462a"/><stop offset="1" stop-color="#181818"/></linearGradient>
<g transform="translate(580.50,272.00) rotate(15.027) scale(65.955)"><polygon points="0.0000,0.0000 0.4406,-0.0558 0.6258,-0.0958 0.5770,0.0056 1.0000,0.0000 0.5620,0.0450 0.3619,0.0850 0.4306,-0.0164" fill="url(#bg4)" stroke="#3a3a1a" stroke-width="0.6" vector-effect="non-scaling-stroke" stroke-linejoin="miter"/></g>
<linearGradient id="bg5" gradientUnits="userSpaceOnUse" x1="0" y1="0" x2="1" y2="0">
<stop offset="0" stop-color="#181818"/><stop offset="0.239" stop-color="#46462a"/><stop offset="0.414" stop-color="#a8a440"/><stop offset="0.445" stop-color="#f4f01c"/><stop offset="0.549" stop-color="#f4f01c"/><stop offset="0.610" stop-color="#a8a440"/><stop offset="0.769" stop-color="#46462a"/><stop offset="1" stop-color="#181818"/></linearGradient>
<g transform="translate(389.00,311.80) rotate(-29.911) scale(72.796)"><polygon points="0.0000,0.0000 0.4438,-0.0483 0.6288,-0.0931 0.5802,0.0092 1.0000,0.0000 0.5652,0.0449 0.3652,0.0897 0.4338,-0.0126" fill="url(#bg5)" stroke="#3a3a1a" stroke-width="0.6" vector-effect="non-scaling-stroke" stroke-linejoin="miter"/></g>
<linearGradient id="bg6" gradientUnits="userSpaceOnUse" x1="0" y1="0" x2="1" y2="0">
<stop offset="0" stop-color="#181818"/><stop offset="0.244" stop-color="#46462a"/><stop offset="0.423" stop-color="#a8a440"/><stop offset="0.461" stop-color="#f4f01c"/><stop offset="0.550" stop-color="#f4f01c"/><stop offset="0.618" stop-color="#a8a440"/><stop offset="0.773" stop-color="#46462a"/><stop offset="1" stop-color="#181818"/></linearGradient>
<g transform="translate(589.50,370.60) rotate(-14.554) scale(53.724)"><polygon points="0.0000,0.0000 0.4530,-0.0595 0.6299,-0.1153 0.5879,0.0063 1.0000,0.0000 0.5729,0.0547 0.3809,0.1104 0.4430,-0.0111" fill="url(#bg6)" stroke="#3a3a1a" stroke-width="0.6" vector-effect="non-scaling-stroke" stroke-linejoin="miter"/></g>
<linearGradient id="bg7" gradientUnits="userSpaceOnUse" x1="0" y1="0" x2="1" y2="0">
<stop offset="0" stop-color="#181818"/><stop offset="0.238" stop-color="#46462a"/><stop offset="0.412" stop-color="#a8a440"/><stop offset="0.446" stop-color="#f4f01c"/><stop offset="0.545" stop-color="#f4f01c"/><stop offset="0.608" stop-color="#a8a440"/><stop offset="0.768" stop-color="#46462a"/><stop offset="1" stop-color="#181818"/></linearGradient>
<g transform="translate(419.40,349.60) rotate(15.393) scale(72.708)"><polygon points="0.0000,0.0000 0.4424,-0.0456 0.6249,-0.0879 0.5783,0.0124 1.0000,0.0000 0.5633,0.0481 0.3658,0.0904 0.4324,-0.0098" fill="url(#bg7)" stroke="#3a3a1a" stroke-width="0.6" vector-effect="non-scaling-stroke" stroke-linejoin="miter"/></g>
<linearGradient id="bg8" gradientUnits="userSpaceOnUse" x1="0" y1="0" x2="1" y2="0">
<stop offset="0" stop-color="#181818"/><stop offset="0.242" stop-color="#46462a"/><stop offset="0.420" stop-color="#a8a440"/><stop offset="0.454" stop-color="#f4f01c"/><stop offset="0.551" stop-color="#f4f01c"/><stop offset="0.615" stop-color="#a8a440"/><stop offset="0.772" stop-color="#46462a"/><stop offset="1" stop-color="#181818"/></linearGradient>
<g transform="translate(183.80,349.00) rotate(-15.071) scale(79.225)"><polygon points="0.0000,0.0000 0.4497,-0.0396 0.6306,-0.0746 0.5853,0.0173 1.0000,0.0000 0.5703,0.0501 0.3745,0.0851 0.4397,-0.0068" fill="url(#bg8)" stroke="#3a3a1a" stroke-width="0.6" vector-effect="non-scaling-stroke" stroke-linejoin="miter"/></g>
<linearGradient id="bg9" gradientUnits="userSpaceOnUse" x1="0" y1="0" x2="1" y2="0">
<stop offset="0" stop-color="#181818"/><stop offset="0.243" stop-color="#46462a"/><stop offset="0.421" stop-color="#a8a440"/><stop offset="0.456" stop-color="#f4f01c"/><stop offset="0.552" stop-color="#f4f01c"/><stop offset="0.617" stop-color="#a8a440"/><stop offset="0.773" stop-color="#46462a"/><stop offset="1" stop-color="#181818"/></linearGradient>
<g transform="translate(280.50,348.40) rotate(-14.412) scale(51.831)"><polygon points="0.0000,0.0000 0.4509,-0.0559 0.6317,-0.1325 0.5865,0.0076 1.0000,0.0000 0.5715,0.0578 0.3758,0.1344 0.4409,-0.0057" fill="url(#bg9)" stroke="#3a3a1a" stroke-width="0.6" vector-effect="non-scaling-stroke" stroke-linejoin="miter"/></g>
<g transform="translate(0.0,0.0)">
<path d="M177,377.8 L221.3,377.8 Q222.4,377.8 222.8,378.8 L228.5,397.6 L169.8,397.6 L175.5,378.8 Q175.9,377.8 177,377.8 Z" fill="url(#teal)"/>
<rect x="166.9" y="397.5" width="64.2" height="8.4" fill="url(#band)"/>
<rect x="166.7" y="405.8" width="64.4" height="10.4" fill="url(#silver)"/>
<line x1="166.8" y1="405.8" x2="231" y2="405.8" stroke="#8c8c8c" stroke-width="0.6"/>
<rect x="205.1" y="380.4" width="15.1" height="6.7" fill="#c6d2ce" stroke="#98aaa8" stroke-width="0.5"/>
<circle cx="207.7" cy="392" r="1.5" fill="#1e3234" stroke="#a8c0c0" stroke-width="0.45"/>
<circle cx="213.6" cy="392" r="1.5" fill="#1e3234" stroke="#a8c0c0" stroke-width="0.45"/>
<circle cx="219.5" cy="392" r="1.5" fill="#1e3234" stroke="#a8c0c0" stroke-width="0.45"/>
<rect x="184.5" y="384.3" width="11.5" height="1.2" fill="#244a4c"/><rect x="187" y="386.3" width="7" height="0.7" fill="#2e5a5c"/>
<rect x="178.5" y="400.3" width="17" height="1.6" fill="#2a58b4"/>
<line x1="187.6" y1="399" x2="186.6" y2="402" stroke="#c02020" stroke-width="0.5"/>
<rect x="196.5" y="400.6" width="17.5" height="1" fill="#7a7a7a"/>
<rect x="191" y="410.8" width="22" height="3" fill="#d4d4d4" stroke="#9a9a9a" stroke-width="0.35"/>
<line x1="236.8" y1="388.3" x2="236.8" y2="404.5" stroke="#161616" stroke-width="3" stroke-linecap="round"/>
<polygon points="232.2,405.6 236.8,403.6 237.4,405.6 233,407.4" fill="#c89a3a"/>
</g>
<g transform="translate(338.0,-1.5)">
<path d="M177,377.8 L221.3,377.8 Q222.4,377.8 222.8,378.8 L228.5,397.6 L169.8,397.6 L175.5,378.8 Q175.9,377.8 177,377.8 Z" fill="url(#teal)"/>
<rect x="166.9" y="397.5" width="64.2" height="8.4" fill="url(#band)"/>
<rect x="166.7" y="405.8" width="64.4" height="10.4" fill="url(#silver)"/>
<line x1="166.8" y1="405.8" x2="231" y2="405.8" stroke="#8c8c8c" stroke-width="0.6"/>
<rect x="205.1" y="380.4" width="15.1" height="6.7" fill="#c6d2ce" stroke="#98aaa8" stroke-width="0.5"/>
<circle cx="207.7" cy="392" r="1.5" fill="#1e3234" stroke="#a8c0c0" stroke-width="0.45"/>
<circle cx="213.6" cy="392" r="1.5" fill="#1e3234" stroke="#a8c0c0" stroke-width="0.45"/>
<circle cx="219.5" cy="392" r="1.5" fill="#1e3234" stroke="#a8c0c0" stroke-width="0.45"/>
<rect x="184.5" y="384.3" width="11.5" height="1.2" fill="#244a4c"/><rect x="187" y="386.3" width="7" height="0.7" fill="#2e5a5c"/>
<rect x="178.5" y="400.3" width="17" height="1.6" fill="#2a58b4"/>
<line x1="187.6" y1="399" x2="186.6" y2="402" stroke="#c02020" stroke-width="0.5"/>
<rect x="196.5" y="400.6" width="17.5" height="1" fill="#7a7a7a"/>
<rect x="191" y="410.8" width="22" height="3" fill="#d4d4d4" stroke="#9a9a9a" stroke-width="0.35"/>
<line x1="236.8" y1="388.3" x2="236.8" y2="404.5" stroke="#161616" stroke-width="3" stroke-linecap="round"/>
<polygon points="232.2,405.6 236.8,403.6 237.4,405.6 233,407.4" fill="#c89a3a"/>
</g>
<text x="202.7" y="426.5" font-size="8.5" fill="#333" font-weight="normal" text-anchor="middle" dominant-baseline="central" font-family="'Liberation Serif', serif" textLength="14.6" lengthAdjust="spacingAndGlyphs">RTU</text>
<text x="540.8" y="426.0" font-size="8.5" fill="#333" font-weight="normal" text-anchor="middle" dominant-baseline="central" font-family="'Liberation Serif', serif" textLength="14.6" lengthAdjust="spacingAndGlyphs">RTU</text>
<line x1="200.1" y1="442.8" x2="200.1" y2="461.9" stroke="#6a6a6a" stroke-width="1.2"/>
<polygon points="200.1,438.8 197.1,443.6 203.1,443.6" fill="#333"/>
<line x1="537.3" y1="441.3" x2="537.3" y2="459.3" stroke="#6a6a6a" stroke-width="1.2"/>
<polygon points="537.3,437.3 534.3,442.1 540.3,442.1" fill="#333"/>
<g transform="translate(42.5,484.4) scale(1.000,1.000)">
<path d="M0.7,4.6 L2.3,46 Q14.8,50.5 28,46 L29,4.6 Z" fill="url(#rainG)"/>
<g stroke="#d4c4a4" stroke-width="0.8" opacity="0.85"><path d="M1,14.5 Q14.8,17.5 28.8,14.5" fill="none"/><path d="M2,43.6 Q14.8,46.6 28,43.6" fill="none"/></g>
<ellipse cx="14.8" cy="5" rx="14.8" ry="5" fill="#eeeeee" stroke="#aaa" stroke-width="0.4"/>
<ellipse cx="14.8" cy="5.3" rx="13.3" ry="3.9" fill="url(#rimG)"/>
<rect x="13" y="21" width="8" height="2.4" rx="1" fill="#2a2a2a"/>
</g>
<g transform="translate(103.2,488.0) scale(1.000) translate(-103.2,-488)">
<path d="M107.2,497.5 C108,490.5 113.5,487.8 117.8,488.3 C123.5,489 126.8,493.5 126.3,499 C125.9,504 124.6,508 122.6,510.8" fill="none" stroke="#1a1a1a" stroke-width="0.8"/>
<path d="M108.6,497.5 C110,491.5 114.5,489.3 118,489.6" fill="none" stroke="#555" stroke-width="0.5"/>
<path d="M110.8,505.7 Q116,510.6 122.8,511.2" fill="none" stroke="#1a1a1a" stroke-width="0.7"/>
<rect x="106" y="497" width="2.6" height="3" fill="#111"/>
<rect x="103.6" y="499.6" width="7.2" height="28.1" rx="1.2" fill="#121212"/>
<rect x="105.2" y="501" width="1.1" height="25" fill="#343434"/>
<line x1="122.8" y1="512.2" x2="117.4" y2="522.8" stroke="#c4c0b6" stroke-width="2.8" stroke-linecap="round"/>
<line x1="122.3" y1="512.6" x2="117.2" y2="522.4" stroke="#e4e2dc" stroke-width="0.8" stroke-linecap="round"/>
</g>
<g transform="translate(156.4,488.5) scale(1.000) translate(-156.4,-488.5)">
<path d="M187.9,495.9 Q193,493 195,491 Q197,489 199,488" fill="none" stroke="#b0b0b0" stroke-width="0.6"/>
<polygon points="186,494 188.6,493.4 189.2,496.5 187,497" fill="#bbb"/>
<polygon points="155.5,515.3 158.3,509.7 161.1,504.2 165.7,502.8 183.3,493.6 187,495.9 189.7,502.8 187.9,507 175.9,520.8 173.1,526.4 168.5,526.4 162,529.6 159.2,525.4 155.5,519" fill="#121212"/>
<path d="M163,513 L182,497.5" stroke="#505050" stroke-width="1.4" stroke-linecap="round" opacity="0.8"/>
<polygon points="161.1,504.2 163.5,502.5 166,503.5 163,506" fill="#555"/>
<polygon points="169,525.5 173,524 174,526.4 170,527.5" fill="#666"/>
<ellipse cx="158.4" cy="514.3" rx="1.4" ry="1.8" fill="#9a9a9a"/><ellipse cx="161.1" cy="521.3" rx="1.4" ry="1.8" fill="#9a9a9a"/>
</g>
<g transform="translate(217.7,487.9) scale(1.000,1.000)">
<rect x="0" y="4.6" width="13.5" height="32" fill="url(#wqG)"/>
<polygon points="1.7,0 11.7,0 13.5,5 0,5" fill="#1a1e28"/>
<rect x="1.7" y="0" width="10" height="0.8" fill="#2040a0"/>
<polygon points="0,36.6 13.5,36.6 13.5,39.1 0,38.2" fill="#1e2430"/>
</g>
<g transform="translate(260.0,501.0) scale(1.000) translate(-260,-501)">
<polygon points="264.8,506.8 273.4,503.3 303,501.9 306.5,504.4 306.5,516.5 282.7,523.1 264.8,523.1" fill="url(#camG)" stroke="#aaa" stroke-width="0.4"/>
<polygon points="264.8,506.8 273.4,503.3 303,501.9 282.7,505.6" fill="#eeeaea"/>
<polygon points="282.7,505.6 303,501.9 306.5,504.4 306.5,516.5 282.7,523.1" fill="#c8c2c2" opacity="0.6"/>
<line x1="282.7" y1="505.6" x2="282.7" y2="523.1" stroke="#b8b4b4" stroke-width="0.5"/>
<rect x="264.5" y="509.9" width="12.8" height="10.9" rx="3" fill="#1e1e1e"/>
<ellipse cx="265" cy="516" rx="4.6" ry="5.2" fill="#111" stroke="#333" stroke-width="0.6"/>
<ellipse cx="265" cy="516" rx="2.4" ry="2.8" fill="#3a3020"/>
<circle cx="265.6" cy="515.6" r="0.9" fill="#8a7a50"/>
</g>
<text x="44.0" y="544.0" font-size="10.4" fill="#222" font-weight="normal" text-anchor="start" dominant-baseline="central" font-family="'Liberation Serif', serif" >雨量计</text>
<text x="86.9" y="544.0" font-size="10.4" fill="#222" font-weight="normal" text-anchor="start" dominant-baseline="central" font-family="'Liberation Serif', serif" >压力水位计</text>
<text x="154.4" y="542.5" font-size="10.4" fill="#222" font-weight="normal" text-anchor="start" dominant-baseline="central" font-family="'Liberation Serif', serif" >流量计</text>
<text x="193.8" y="543.0" font-size="10.4" fill="#222" font-weight="normal" text-anchor="start" dominant-baseline="central" font-family="'Liberation Serif', serif" >水质传感器</text>
<text x="260.3" y="543.0" font-size="10.4" fill="#222" font-weight="normal" text-anchor="start" dominant-baseline="central" font-family="'Liberation Serif', serif" >视频监控</text>
<g transform="translate(431.4,486.4) scale(0.983,0.898)">
<path d="M0.7,4.6 L2.3,46 Q14.8,50.5 28,46 L29,4.6 Z" fill="url(#rainG)"/>
<g stroke="#d4c4a4" stroke-width="0.8" opacity="0.85"><path d="M1,14.5 Q14.8,17.5 28.8,14.5" fill="none"/><path d="M2,43.6 Q14.8,46.6 28,43.6" fill="none"/></g>
<ellipse cx="14.8" cy="5" rx="14.8" ry="5" fill="#eeeeee" stroke="#aaa" stroke-width="0.4"/>
<ellipse cx="14.8" cy="5.3" rx="13.3" ry="3.9" fill="url(#rimG)"/>
<rect x="13" y="21" width="8" height="2.4" rx="1" fill="#2a2a2a"/>
</g>
<g transform="translate(492.3,488.5) scale(1.000) translate(-103.2,-488)">
<path d="M107.2,497.5 C108,490.5 113.5,487.8 117.8,488.3 C123.5,489 126.8,493.5 126.3,499 C125.9,504 124.6,508 122.6,510.8" fill="none" stroke="#1a1a1a" stroke-width="0.8"/>
<path d="M108.6,497.5 C110,491.5 114.5,489.3 118,489.6" fill="none" stroke="#555" stroke-width="0.5"/>
<path d="M110.8,505.7 Q116,510.6 122.8,511.2" fill="none" stroke="#1a1a1a" stroke-width="0.7"/>
<rect x="106" y="497" width="2.6" height="3" fill="#111"/>
<rect x="103.6" y="499.6" width="7.2" height="28.1" rx="1.2" fill="#121212"/>
<rect x="105.2" y="501" width="1.1" height="25" fill="#343434"/>
<line x1="122.8" y1="512.2" x2="117.4" y2="522.8" stroke="#c4c0b6" stroke-width="2.8" stroke-linecap="round"/>
<line x1="122.3" y1="512.6" x2="117.2" y2="522.4" stroke="#e4e2dc" stroke-width="0.8" stroke-linecap="round"/>
</g>
<g transform="translate(550.4,486.7) scale(1.000) translate(-156.4,-488.5)">
<path d="M187.9,495.9 Q193,493 195,491 Q197,489 199,488" fill="none" stroke="#b0b0b0" stroke-width="0.6"/>
<polygon points="186,494 188.6,493.4 189.2,496.5 187,497" fill="#bbb"/>
<polygon points="155.5,515.3 158.3,509.7 161.1,504.2 165.7,502.8 183.3,493.6 187,495.9 189.7,502.8 187.9,507 175.9,520.8 173.1,526.4 168.5,526.4 162,529.6 159.2,525.4 155.5,519" fill="#121212"/>
<path d="M163,513 L182,497.5" stroke="#505050" stroke-width="1.4" stroke-linecap="round" opacity="0.8"/>
<polygon points="161.1,504.2 163.5,502.5 166,503.5 163,506" fill="#555"/>
<polygon points="169,525.5 173,524 174,526.4 170,527.5" fill="#666"/>
<ellipse cx="158.4" cy="514.3" rx="1.4" ry="1.8" fill="#9a9a9a"/><ellipse cx="161.1" cy="521.3" rx="1.4" ry="1.8" fill="#9a9a9a"/>
</g>
<g transform="translate(614.5,486.7) scale(1.119,0.995)">
<rect x="0" y="4.6" width="13.5" height="32" fill="url(#wqG)"/>
<polygon points="1.7,0 11.7,0 13.5,5 0,5" fill="#1a1e28"/>
<rect x="1.7" y="0" width="10" height="0.8" fill="#2040a0"/>
<polygon points="0,36.6 13.5,36.6 13.5,39.1 0,38.2" fill="#1e2430"/>
</g>
<g transform="translate(655.6,500.5) scale(1.030) translate(-260,-501)">
<polygon points="264.8,506.8 273.4,503.3 303,501.9 306.5,504.4 306.5,516.5 282.7,523.1 264.8,523.1" fill="url(#camG)" stroke="#aaa" stroke-width="0.4"/>
<polygon points="264.8,506.8 273.4,503.3 303,501.9 282.7,505.6" fill="#eeeaea"/>
<polygon points="282.7,505.6 303,501.9 306.5,504.4 306.5,516.5 282.7,523.1" fill="#c8c2c2" opacity="0.6"/>
<line x1="282.7" y1="505.6" x2="282.7" y2="523.1" stroke="#b8b4b4" stroke-width="0.5"/>
<rect x="264.5" y="509.9" width="12.8" height="10.9" rx="3" fill="#1e1e1e"/>
<ellipse cx="265" cy="516" rx="4.6" ry="5.2" fill="#111" stroke="#333" stroke-width="0.6"/>
<ellipse cx="265" cy="516" rx="2.4" ry="2.8" fill="#3a3020"/>
<circle cx="265.6" cy="515.6" r="0.9" fill="#8a7a50"/>
</g>
<text x="432.5" y="541.9" font-size="10.4" fill="#222" font-weight="normal" text-anchor="start" dominant-baseline="central" font-family="'Liberation Serif', serif" >雨量计</text>
<text x="476.1" y="541.9" font-size="10.4" fill="#222" font-weight="normal" text-anchor="start" dominant-baseline="central" font-family="'Liberation Serif', serif" >压力水位计</text>
<text x="550.4" y="540.5" font-size="10.4" fill="#222" font-weight="normal" text-anchor="start" dominant-baseline="central" font-family="'Liberation Serif', serif" >流量计</text>
<text x="595.0" y="541.2" font-size="10.4" fill="#222" font-weight="normal" text-anchor="start" dominant-baseline="central" font-family="'Liberation Serif', serif" >水质传感器</text>
<text x="664.2" y="541.2" font-size="10.4" fill="#222" font-weight="normal" text-anchor="start" dominant-baseline="central" font-family="'Liberation Serif', serif" >视频监控</text>
</svg></body></html>
